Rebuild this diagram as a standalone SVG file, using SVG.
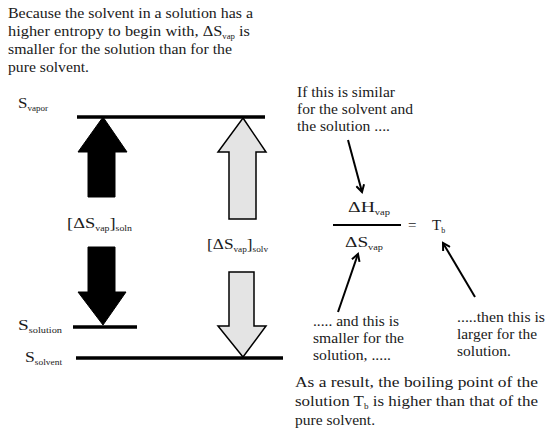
<svg xmlns="http://www.w3.org/2000/svg" width="555" height="437" viewBox="0 0 555 437" font-family="'Liberation Serif', 'DejaVu Serif', serif">
<defs>
<style>
text{font-family:'Liberation Serif','DejaVu Serif',serif;font-size:15px;fill:#1a1a1a}
.sub{font-size:8px}
.lv{stroke:#000;stroke-width:3.5}
.blk{fill:#000;stroke:#000;stroke-width:1}
.gry{fill:#e4e4e4;stroke:#000;stroke-width:1.5}
.ptr{stroke:#000;stroke-width:2;fill:none}
</style>
<marker id="ah" markerWidth="10" markerHeight="10" refX="8" refY="5" orient="auto" markerUnits="userSpaceOnUse">
<path d="M1,1 L8,5 L1,9" fill="none" stroke="#000" stroke-width="2"/>
</marker>
</defs>
<rect width="555" height="437" fill="#fff"/>
<g id="intro">
<text x="8" y="18" textLength="245" lengthAdjust="spacingAndGlyphs">Because the solvent in a solution has a</text>
<text x="8" y="36" textLength="242" lengthAdjust="spacingAndGlyphs">higher entropy to begin with, ΔS<tspan class="sub" dy="3">vap</tspan><tspan dy="-3"> is</tspan></text>
<text x="8" y="54" textLength="224" lengthAdjust="spacingAndGlyphs">smaller for the solution than for the</text>
<text x="8" y="72" textLength="81" lengthAdjust="spacingAndGlyphs">pure solvent.</text>
</g>
<g id="levels">
<line class="lv" x1="77" y1="117" x2="265" y2="117"/>
<line class="lv" x1="73" y1="327" x2="137" y2="327"/>
<line class="lv" x1="76" y1="358" x2="283" y2="358"/>
<text x="18" y="108" textLength="30" lengthAdjust="spacingAndGlyphs">S<tspan class="sub" dy="3">vapor</tspan></text>
<text x="18" y="330" textLength="44" lengthAdjust="spacingAndGlyphs">S<tspan class="sub" dy="3">solution</tspan></text>
<text x="25" y="362" textLength="37" lengthAdjust="spacingAndGlyphs">S<tspan class="sub" dy="3">solvent</tspan></text>
</g>
<g id="soln-arrows">
<path class="blk" d="M103,117 L127,152 L115,152 L115,197 L88,197 L88,152 L78,152 Z"/>
<path class="blk" d="M88,247 L115,247 L115,292 L126,292 L103,325 L78,292 L88,292 Z"/>
<text x="67" y="228" textLength="65" lengthAdjust="spacingAndGlyphs">[ΔS<tspan class="sub" dy="3">vap</tspan><tspan dy="-3">]</tspan><tspan class="sub" dy="3">soln</tspan></text>
</g>
<g id="solv-arrows">
<path class="gry" d="M243,118 L266,152 L256,152 L256,219 L229,219 L229,152 L218,152 Z"/>
<path class="gry" d="M229,272 L254,272 L254,326 L266,326 L243,357 L218,326 L229,326 Z"/>
<text x="207" y="249" textLength="61" lengthAdjust="spacingAndGlyphs">[ΔS<tspan class="sub" dy="3">vap</tspan><tspan dy="-3">]</tspan><tspan class="sub" dy="3">solv</tspan></text>
</g>
<g id="equation">
<text x="348" y="212" textLength="42" lengthAdjust="spacingAndGlyphs">ΔH<tspan class="sub" dy="3">vap</tspan></text>
<line x1="333" y1="225" x2="401" y2="225" stroke="#000" stroke-width="2"/>
<text x="408" y="230">=</text>
<text x="432" y="230">T<tspan class="sub" dy="3">b</tspan></text>
<text x="345" y="247" textLength="38" lengthAdjust="spacingAndGlyphs">ΔS<tspan class="sub" dy="3">vap</tspan></text>
</g>
<g id="note-top">
<text x="297" y="97" textLength="98" lengthAdjust="spacingAndGlyphs">If this is similar</text>
<text x="297" y="114" textLength="116" lengthAdjust="spacingAndGlyphs">for the solvent and</text>
<text x="297" y="131" textLength="93" lengthAdjust="spacingAndGlyphs">the solution ....</text>
</g>
<g id="note-mid">
<text x="313" y="326" textLength="86" lengthAdjust="spacingAndGlyphs">..... and this is</text>
<text x="313" y="343" textLength="91" lengthAdjust="spacingAndGlyphs">smaller for the</text>
<text x="313" y="360" textLength="78" lengthAdjust="spacingAndGlyphs">solution, .....</text>
</g>
<g id="note-right">
<text x="457" y="322" textLength="88" lengthAdjust="spacingAndGlyphs">.....then this is</text>
<text x="457" y="339" textLength="80" lengthAdjust="spacingAndGlyphs">larger for the</text>
<text x="457" y="356" textLength="54" lengthAdjust="spacingAndGlyphs">solution.</text>
</g>
<g id="conclusion">
<text x="295" y="387" textLength="243" lengthAdjust="spacingAndGlyphs">As a result, the boiling point of the</text>
<text x="295" y="406" textLength="243" lengthAdjust="spacingAndGlyphs">solution T<tspan class="sub" dy="3">b</tspan><tspan dy="-3"> is higher than that of the</tspan></text>
<text x="295" y="425" textLength="80" lengthAdjust="spacingAndGlyphs">pure solvent.</text>
</g>
<g id="connectors">
<line class="ptr" x1="348" y1="140" x2="362" y2="192" marker-end="url(#ah)"/>
<line class="ptr" x1="338" y1="312" x2="358" y2="254" marker-end="url(#ah)"/>
<line class="ptr" x1="475" y1="297" x2="443" y2="243" marker-end="url(#ah)"/>
</g>
</svg>
